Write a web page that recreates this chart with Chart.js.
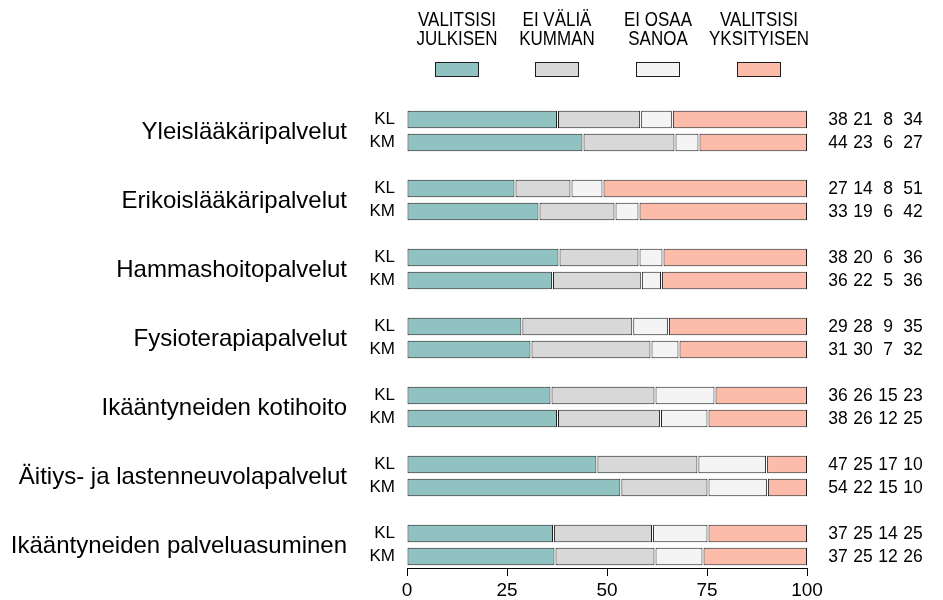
<!DOCTYPE html>
<html>
<head>
<meta charset="utf-8">
<script src="https://cdn.jsdelivr.net/npm/chart.js@4.4.1/dist/chart.umd.min.js"></script>
<style>
  html, body { margin: 0; padding: 0; background: #fff; }
  #wrap { width: 943px; height: 600px; }
</style>
</head>
<body>
<div id="wrap"><canvas id="chart"></canvas></div>
<script>
// services, each has a KL and a KM bar
const categories = [
    'Yleislääkäripalvelut',
    'Erikoislääkäripalvelut',
    'Hammashoitopalvelut',
    'Fysioterapiapalvelut',
    'Ikääntyneiden kotihoito',
    'Äitiys- ja lastenneuvolapalvelut',
    'Ikääntyneiden palveluasuminen'
];
const groups = ['KL', 'KM'];

// legend labels (two lines each)
const seriesNames = [
    ['VALITSISI', 'JULKISEN'],
    ['EI VÄLIÄ', 'KUMMAN'],
    ['EI OSAA', 'SANOA'],
    ['VALITSISI', 'YKSITYISEN']
];
const seriesColors = ['#8fc2c1', '#d8d8d8', '#f4f4f4', '#fdbbaa'];

// percentages, order: KL, KM for each service
const julkisen   = [38, 44, 27, 33, 38, 36, 29, 31, 36, 38, 47, 54, 37, 37];
const eiValia    = [21, 23, 14, 19, 20, 22, 28, 30, 26, 26, 25, 22, 25, 25];
const eiOsaa     = [ 8,  6,  8,  6,  6,  5,  9,  7, 15, 12, 17, 15, 14, 12];
const yksityisen = [34, 27, 51, 42, 36, 36, 35, 32, 23, 25, 10, 10, 25, 26];

const xTicks = [0, 25, 50, 75, 100];

const series = [julkisen, eiValia, eiOsaa, yksityisen];
const FONT = '"Liberation Sans", Arial, Helvetica, sans-serif';
const EDGE = '#1e1e1e';

// y slots: KL, KM, blank between services
const labels = [];
const slotOfRow = [];
categories.forEach((c, ci) => {
    groups.forEach(g => {
        slotOfRow.push(labels.length);
        labels.push(g);
    });
    if (ci < categories.length - 1) labels.push('');
});

// floating segments, scaled so each bar fills 0..100, small gap between pieces
const GAP = 0.13;
const datasets = series.map((vals, si) => {
    const data = labels.map(() => null);
    vals.forEach((v, r) => {
        const total = series.reduce((s, arr) => s + arr[r], 0);
        let start = 0;
        for (let k = 0; k < si; k++) start += series[k][r];
        const a = start / total * 100;
        const b = (start + v) / total * 100;
        data[slotOfRow[r]] = [si === 0 ? a : a + GAP, si === series.length - 1 ? b : b - GAP];
    });
    return {
        label: seriesNames[si].join(' '),
        data: data,
        backgroundColor: seriesColors[si],
        borderColor: EDGE,
        borderWidth: 1,
        borderSkipped: false,
        grouped: false,
        barPercentage: 0.76,
        categoryPercentage: 1
    };
});

const extras = {
    id: 'extras',
    afterDraw(chart) {
        const ctx = chart.ctx;
        const ys = chart.scales.y;
        const area = chart.chartArea;
        ctx.save();
        ctx.fillStyle = '#000';
        ctx.textBaseline = 'middle';

        // service names
        ctx.font = '24px ' + FONT;
        ctx.textAlign = 'right';
        categories.forEach((c, ci) => {
            const y1 = ys.getPixelForValue(slotOfRow[ci * 2]);
            const y2 = ys.getPixelForValue(slotOfRow[ci * 2 + 1]);
            ctx.fillText(c, area.left - 60, (y1 + y2) / 2 + 1);
        });

        // values on the right
        ctx.font = '17.5px ' + FONT;
        ctx.textAlign = 'center';
        const cols = [838, 863, 888, 913];
        julkisen.forEach((v, r) => {
            const y = ys.getPixelForValue(slotOfRow[r]);
            series.forEach((arr, si) => ctx.fillText(String(arr[r]), cols[si], y + 1));
        });

        // legend, text slightly condensed
        const centers = [457, 557, 658, 759];
        seriesNames.forEach((lines, si) => {
            ctx.save();
            ctx.translate(centers[si], 0);
            ctx.scale(0.87, 1);
            ctx.font = '19.5px ' + FONT;
            ctx.fillStyle = '#000';
            ctx.fillText(lines[0], 0, 21);
            ctx.fillText(lines[1], 0, 40);
            ctx.restore();
            ctx.fillStyle = seriesColors[si];
            ctx.fillRect(centers[si] - 21.5, 62.5, 43, 14);
            ctx.strokeStyle = EDGE;
            ctx.lineWidth = 1;
            ctx.strokeRect(centers[si] - 21.5, 62.5, 43, 14);
        });
        ctx.restore();
    }
};

new Chart(document.getElementById('chart'), {
    type: 'bar',
    data: { labels: labels, datasets: datasets },
    options: {
        indexAxis: 'y',
        responsive: true,
        maintainAspectRatio: false,
        animation: false,
        layout: { padding: { top: 108, right: 136, bottom: 0, left: 0 } },
        plugins: {
            legend: { display: false },
            tooltip: { enabled: false }
        },
        scales: {
            x: {
                min: 0,
                max: 100,
                afterBuildTicks: (scale) => { scale.ticks = xTicks.map(v => ({ value: v })); },
                afterFit: (scale) => { scale.height = 32; },
                grid: { drawOnChartArea: false, drawTicks: true, tickLength: 8, color: '#000', tickColor: '#000' },
                border: { display: true, color: '#000', width: 1 },
                ticks: { color: '#000', font: { size: 19, family: FONT }, padding: 3, maxRotation: 0 }
            },
            y: {
                afterFit: (scale) => { scale.width = 407; },
                grid: { display: false, drawTicks: false },
                border: { display: false },
                ticks: { color: '#000', font: { size: 17, family: FONT }, padding: 12, autoSkip: false }
            }
        }
    },
    plugins: [extras]
});
</script>
</body>
</html>
